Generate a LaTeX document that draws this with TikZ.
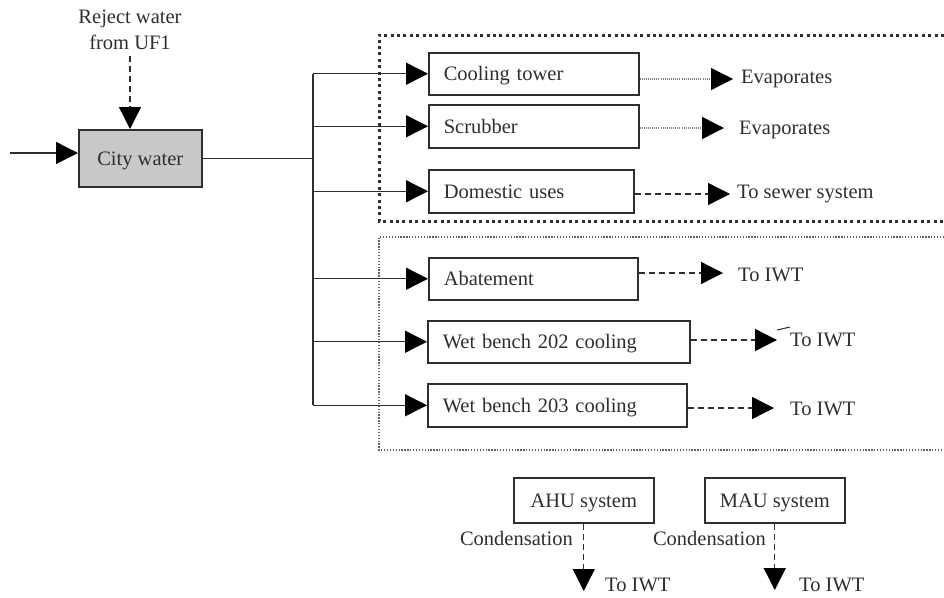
\documentclass[tikz,border=0pt]{standalone}
\usepackage{fontspec}
\setmainfont{Liberation Serif}
\usetikzlibrary{arrows.meta}
\definecolor{ink}{HTML}{2E2E2E}
\definecolor{cityfill}{HTML}{C8C8C8}
\begin{document}
\begin{tikzpicture}[x=1pt,y=-1pt,
  font=\fontsize{20.5}{26}\selectfont, text=ink,
  wire/.style={draw=ink, line width=1.3pt},
  flow/.style={wire, -{Triangle[length=22pt,width=22pt,color=black]}},
  dashflow/.style={flow, dash pattern=on 6pt off 4pt},
  dotflow/.style={flow, draw=ink!60, dash pattern=on 1pt off 1.1pt},
  unit/.style={draw=ink, line width=1.5pt, minimum height=42pt, inner xsep=15pt,
    inner ysep=0pt, text depth=0pt, align=left, anchor=north west},
  cunit/.style={draw=ink, line width=1.5pt, inner sep=0pt, text depth=0pt,
    align=center, anchor=north west},
  lbl/.style={inner sep=0pt, anchor=west},
  thickdots/.style={draw=ink, line width=3pt, dash pattern=on 3pt off 3.4pt},
  thindots/.style={draw=ink!75, line width=1.3pt, dash pattern=on 1.3pt off 1.6pt},
  ]
\useasboundingbox (0,0) rectangle (944,597);

% grouping frames (open on the right)
\draw[thickdots] (944,35) -- (379,35) -- (379,221) -- (944,221);
\draw[thindots] (944,237) -- (379,237) -- (379,450) -- (944,450);

% supply side
\node[cunit, fill=cityfill, minimum width=123pt, minimum height=57pt] (city) at (78,129) {City water};
\node[align=center, inner sep=0pt] (reject) at (130,30) {Reject water\\from UF1};
\coordinate (src) at (10,153);
\coordinate (trunk) at (313,0);

% consumers
\node[unit, text width=180pt] (cool) at (428,52) {Cooling tower};
\node[unit, text width=180pt, minimum height=43pt] (scrub) at (428,104) {Scrubber};
\node[unit, text width=175pt, minimum height=43pt] (dom) at (428,169) {Domestic uses};
\node[unit, text width=179pt] (abat) at (428,257) {Abatement};
\node[unit, text width=232pt] (wbA) at (427,320) {Wet bench 202 cooling};
\node[unit, text width=229pt, minimum height=43pt] (wbB) at (427,383) {Wet bench 203 cooling};
\node[cunit, minimum width=140pt, minimum height=45pt] (ahu) at (513,477) {AHU system};
\node[cunit, minimum width=140pt, minimum height=45pt] (mau) at (704,477) {MAU system};

% destinations
\node[lbl] (ev1) at (741,79) {Evaporates};
\node[lbl] (ev2) at (739,130) {Evaporates};
\node[lbl] (sew) at (737,194) {To sewer system};
\node[lbl] (iwtA) at (738,275) {To IWT};
\node[lbl] (iwtB) at (790,340) {To IWT};
\node[lbl] (iwtC) at (790,409) {To IWT};
\node[lbl] (iwtD) at (605,585) {To IWT};
\node[lbl] (iwtE) at (799,585) {To IWT};
\node[inner sep=0pt, anchor=east] (condA) at (573,538) {Condensation};
\node[inner sep=0pt, anchor=east] (condB) at (766,538) {Condensation};

% inflows to city water
\draw[flow] (src) -- (city.west |- src);
\draw[dashflow] ([yshift=-6pt]reject.south) -- (reject.south |- city.north);

% distribution header
\draw[wire] (city.east) -- (trunk |- city.east);
\draw[wire] (trunk |- cool.west) -- (trunk |- wbB.west);
\foreach \n in {cool,scrub,dom,abat,wbA,wbB}
  \draw[flow] (trunk |- \n.west) -- (\n.west);

% outflows
\draw[dotflow] (cool.east |- ev1.west) -- ([xshift=-8pt]ev1.west);
\draw[dotflow] ([yshift=2pt]scrub.east |- ev2.west) -- ([xshift=-15pt,yshift=2pt]ev2.west);
\draw[dashflow] (dom.east |- sew.west) -- ([xshift=-7pt]sew.west);
\draw[dashflow] ([yshift=2pt]abat.east |- iwtA.west) -- ([xshift=-15pt,yshift=2pt]iwtA.west);
\draw[dashflow] (wbA.east |- iwtB.west) -- ([xshift=-13pt]iwtB.west);
\draw[ink, line width=1pt] ([xshift=-13pt,yshift=10pt]iwtB.west) -- ([yshift=13pt]iwtB.west);
\draw[dashflow] ([yshift=1pt]wbB.east |- iwtC.west) -- ([xshift=-16pt,yshift=1pt]iwtC.west);
\draw[dashflow] (ahu.south) -- ([yshift=-6pt]ahu.south |- iwtD.west);
\draw[dashflow] (mau.south) -- ([yshift=-5pt]mau.south |- iwtE.west);
\end{tikzpicture}
\end{document}
